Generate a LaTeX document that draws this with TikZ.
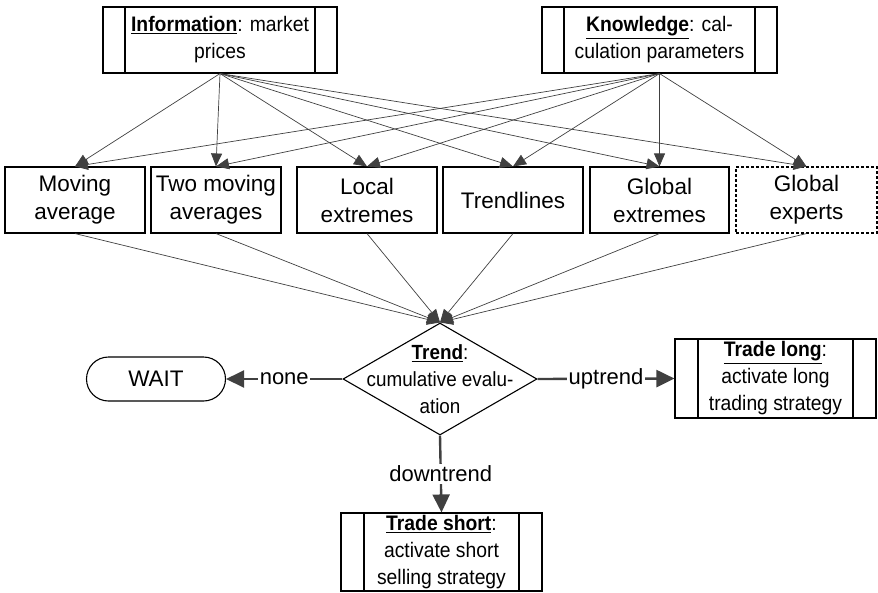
\documentclass[tikz,border=0pt]{standalone}
\usepackage{fontspec}
\setmainfont{Liberation Sans}
\usetikzlibrary{positioning,arrows.meta,shapes.geometric}

\definecolor{linegray}{HTML}{404040}

\tikzset{
  procbox/.style={draw, line width=1.1pt, minimum height=66pt, inner sep=0pt,
    align=center, font=\fontsize{22.5}{28}\selectfont},
  subproc/.style={draw, line width=1.1pt, inner sep=0pt, align=center,
    font=\fontsize{21}{27}\selectfont\addfontfeature{FakeStretch=0.92},
    path picture={
      \draw[line width=1.1pt] ([xshift=#1]path picture bounding box.north west)
        -- ([xshift=#1]path picture bounding box.south west);
      \draw[line width=1.1pt] ([xshift=-#1]path picture bounding box.north east)
        -- ([xshift=-#1]path picture bounding box.south east);}},
  subproc/.default=22pt,
  decision/.style={diamond, draw, line width=1.1pt, inner sep=0pt,
    minimum width=194pt, minimum height=112pt},
  terminal/.style={draw, line width=1.1pt, rounded corners=22pt,
    minimum width=139pt, minimum height=44pt, font=\fontsize{22.5}{26}\selectfont},
  feed/.style={draw=linegray, line width=0.7pt, -{Triangle[length=13pt,width=11pt]}},
  flow/.style={draw=linegray, line width=2.4pt, -{Triangle[length=18pt,width=17pt]}},
  flowlabel/.style={fill=white, inner sep=1.5pt, font=\fontsize{22}{24}\selectfont}
}

\begin{document}
\begin{tikzpicture}[x=1pt,y=-1pt]

  \useasboundingbox (0,0) rectangle (878,592);

  % Sources
  \node[subproc, minimum width=234pt, minimum height=66pt] (info) at (220,40)
    {\underline{\textbf{Information}}: market\\prices};
  \node[subproc, minimum width=235pt, minimum height=66pt] (know) at (659.5,40)
    {\underline{\textbf{Knowledge}}: cal-\\culation parameters};

  % Indicators
  \node[procbox, minimum width=140pt] (mavg) at (75,200) {Moving\\average};
  \node[procbox, minimum width=130pt] (twomavg) at (216,200) {Two moving\\averages};
  \node[procbox, minimum width=140pt] (locext) at (367,200) {Local\\extremes};
  \node[procbox, minimum width=140pt] (trendl) at (513,200) {Trendlines};
  \node[procbox, minimum width=139pt] (globext) at (659.5,200) {Global\\extremes};
  \node[procbox, minimum width=141pt, dash pattern=on 3pt off 2pt] (globexp) at (806.5,200) {Global\\experts};

  % Decision
  \node[decision] (trend) at (440,379) {};
  \node[align=center, font=\fontsize{20.5}{27}\selectfont\addfontfeature{FakeStretch=0.92}] (trendtext) at (trend)
    {\underline{\textbf{Trend}}:\\cumulative evalu-\\ation};

  % Outcomes
  \node[terminal] (wait) at (156,379) {WAIT};
  \node[subproc=23pt, minimum width=201pt, minimum height=79pt] (long) at (775.5,378.5)
    {\underline{\textbf{Trade long}}:\\activate long\\trading strategy};
  \node[subproc=23pt, minimum width=201pt, minimum height=78pt] (short) at (441.5,552)
    {\underline{\textbf{Trade short}}:\\activate short\\selling strategy};

  % Inputs to indicators
  \foreach \ind in {mavg,twomavg,locext,trendl,globext,globexp}{
    \draw[feed] (info.south) -- (\ind.north);
    \draw[feed] (know.south) -- (\ind.north);
  }

  % Indicators to decision
  \foreach \ind in {mavg,twomavg,locext,trendl,globext,globexp}
    \draw[feed] (\ind.south) -- (trend.north);

  % Branches
  \draw[flow] (trend.west) -- node[flowlabel]{none} (wait.east);
  \draw[flow] (trend.east) -- node[flowlabel]{uptrend} (long.west);
  \draw[flow] (trend.south) -- node[flowlabel]{downtrend} (short.north);

\end{tikzpicture}
\end{document}
